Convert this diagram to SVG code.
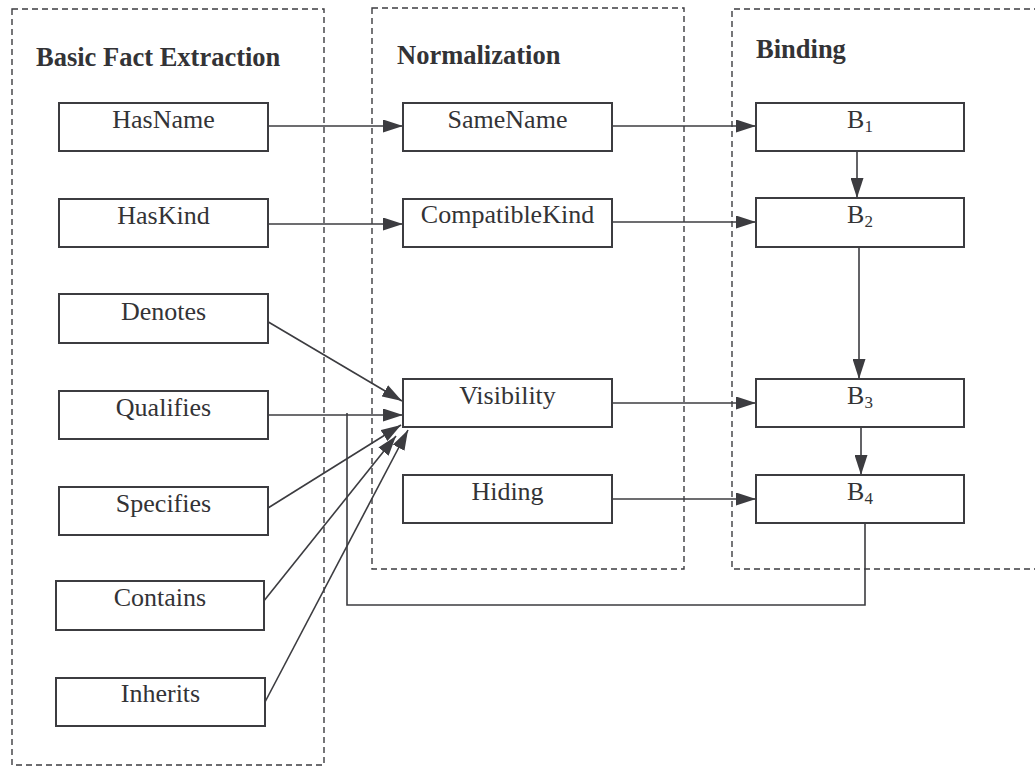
<svg xmlns="http://www.w3.org/2000/svg" width="1035" height="774" viewBox="0 0 1035 774">
  <style>
    .stage { fill: none; stroke: #3c3c40; stroke-width: 1.4; stroke-dasharray: 6 4; }
    .box { fill: #ffffff; stroke: #3c3c40; stroke-width: 2; }
    .title { font-size: 26.5px; font-weight: bold; fill: #333336; }
    .label { font-size: 26px; fill: #333336; text-anchor: middle; }
    .sub { font-size: 17px; }
    .edge { fill: none; stroke: #3c3c40; stroke-width: 1.6; }
  </style>
  <defs>
    <marker id="arrow" viewBox="0 0 20 13" refX="20" refY="6.5" markerWidth="20" markerHeight="13" markerUnits="userSpaceOnUse" orient="auto">
      <path d="M0,0 L20,6.5 L0,13 Z" fill="#3c3c40"/>
    </marker>
  </defs>

  <rect width="1035" height="774" fill="#ffffff"/>

  <g font-family="'Liberation Serif', Tinos, 'Times New Roman', 'DejaVu Serif', serif">
  <!-- stage frames -->
  <g id="stage-extraction">
    <rect class="stage" x="12" y="9" width="312" height="756"/>
    <text class="title" x="36" y="66">Basic Fact Extraction</text>
  </g>
  <g id="stage-normalization">
    <rect class="stage" x="372" y="8" width="312" height="561"/>
    <text class="title" x="397" y="64">Normalization</text>
  </g>
  <g id="stage-binding">
    <path class="stage" d="M1040,9 H732 V569 H1040"/>
    <text class="title" x="756" y="58">Binding</text>
  </g>

  <!-- connectors -->
  <g id="connectors">
    <line class="edge" x1="268" y1="126" x2="403" y2="126" marker-end="url(#arrow)"/>
    <line class="edge" x1="268" y1="224" x2="403" y2="224" marker-end="url(#arrow)"/>
    <line class="edge" x1="265" y1="320" x2="402" y2="401" marker-end="url(#arrow)"/>
    <line class="edge" x1="268" y1="415" x2="403" y2="415" marker-end="url(#arrow)"/>
    <line class="edge" x1="268" y1="508" x2="401" y2="425" marker-end="url(#arrow)"/>
    <line class="edge" x1="263" y1="602" x2="396" y2="436" marker-end="url(#arrow)"/>
    <line class="edge" x1="265" y1="702" x2="408" y2="430" marker-end="url(#arrow)"/>

    <line class="edge" x1="612" y1="126" x2="756" y2="126" marker-end="url(#arrow)"/>
    <line class="edge" x1="612" y1="222" x2="756" y2="222" marker-end="url(#arrow)"/>
    <line class="edge" x1="612" y1="403" x2="756" y2="403" marker-end="url(#arrow)"/>
    <line class="edge" x1="612" y1="499" x2="756" y2="499" marker-end="url(#arrow)"/>

    <line class="edge" x1="857" y1="151" x2="857" y2="198" marker-end="url(#arrow)"/>
    <line class="edge" x1="859" y1="247" x2="859" y2="379" marker-end="url(#arrow)"/>
    <line class="edge" x1="861" y1="427" x2="861" y2="475" marker-end="url(#arrow)"/>

    <path class="edge" d="M865,523 V605 H347 V413"/>
  </g>

  <!-- basic facts -->
  <g id="node-hasname">
    <rect class="box" x="59" y="103" width="209" height="48"/>
    <text class="label" x="163.5" y="128">HasName</text>
  </g>
  <g id="node-haskind">
    <rect class="box" x="59" y="199" width="209" height="48"/>
    <text class="label" x="163.5" y="224">HasKind</text>
  </g>
  <g id="node-denotes">
    <rect class="box" x="59" y="294" width="209" height="49"/>
    <text class="label" x="163.5" y="320">Denotes</text>
  </g>
  <g id="node-qualifies">
    <rect class="box" x="59" y="391" width="209" height="48"/>
    <text class="label" x="163.5" y="416">Qualifies</text>
  </g>
  <g id="node-specifies">
    <rect class="box" x="59" y="487" width="209" height="48"/>
    <text class="label" x="163.5" y="512">Specifies</text>
  </g>
  <g id="node-contains">
    <rect class="box" x="56" y="581" width="208" height="49"/>
    <text class="label" x="160" y="606">Contains</text>
  </g>
  <g id="node-inherits">
    <rect class="box" x="56" y="678" width="209" height="48"/>
    <text class="label" x="160.5" y="702">Inherits</text>
  </g>

  <!-- normalization -->
  <g id="node-samename">
    <rect class="box" x="403" y="103" width="209" height="48"/>
    <text class="label" x="507.5" y="128">SameName</text>
  </g>
  <g id="node-compatiblekind">
    <rect class="box" x="403" y="199" width="209" height="48"/>
    <text class="label" x="507.5" y="223">CompatibleKind</text>
  </g>
  <g id="node-visibility">
    <rect class="box" x="403" y="379" width="209" height="48"/>
    <text class="label" x="507.5" y="404">Visibility</text>
  </g>
  <g id="node-hiding">
    <rect class="box" x="403" y="475" width="209" height="48"/>
    <text class="label" x="507.5" y="500">Hiding</text>
  </g>

  <!-- binding -->
  <g id="node-b1">
    <rect class="box" x="756" y="103" width="208" height="48"/>
    <text class="label" x="860" y="128">B<tspan class="sub" dy="4">1</tspan></text>
  </g>
  <g id="node-b2">
    <rect class="box" x="756" y="198" width="208" height="49"/>
    <text class="label" x="860" y="223">B<tspan class="sub" dy="4">2</tspan></text>
  </g>
  <g id="node-b3">
    <rect class="box" x="756" y="379" width="208" height="48"/>
    <text class="label" x="860" y="404">B<tspan class="sub" dy="4">3</tspan></text>
  </g>
  <g id="node-b4">
    <rect class="box" x="756" y="475" width="208" height="48"/>
    <text class="label" x="860" y="500">B<tspan class="sub" dy="4">4</tspan></text>
  </g>
  </g>
</svg>
